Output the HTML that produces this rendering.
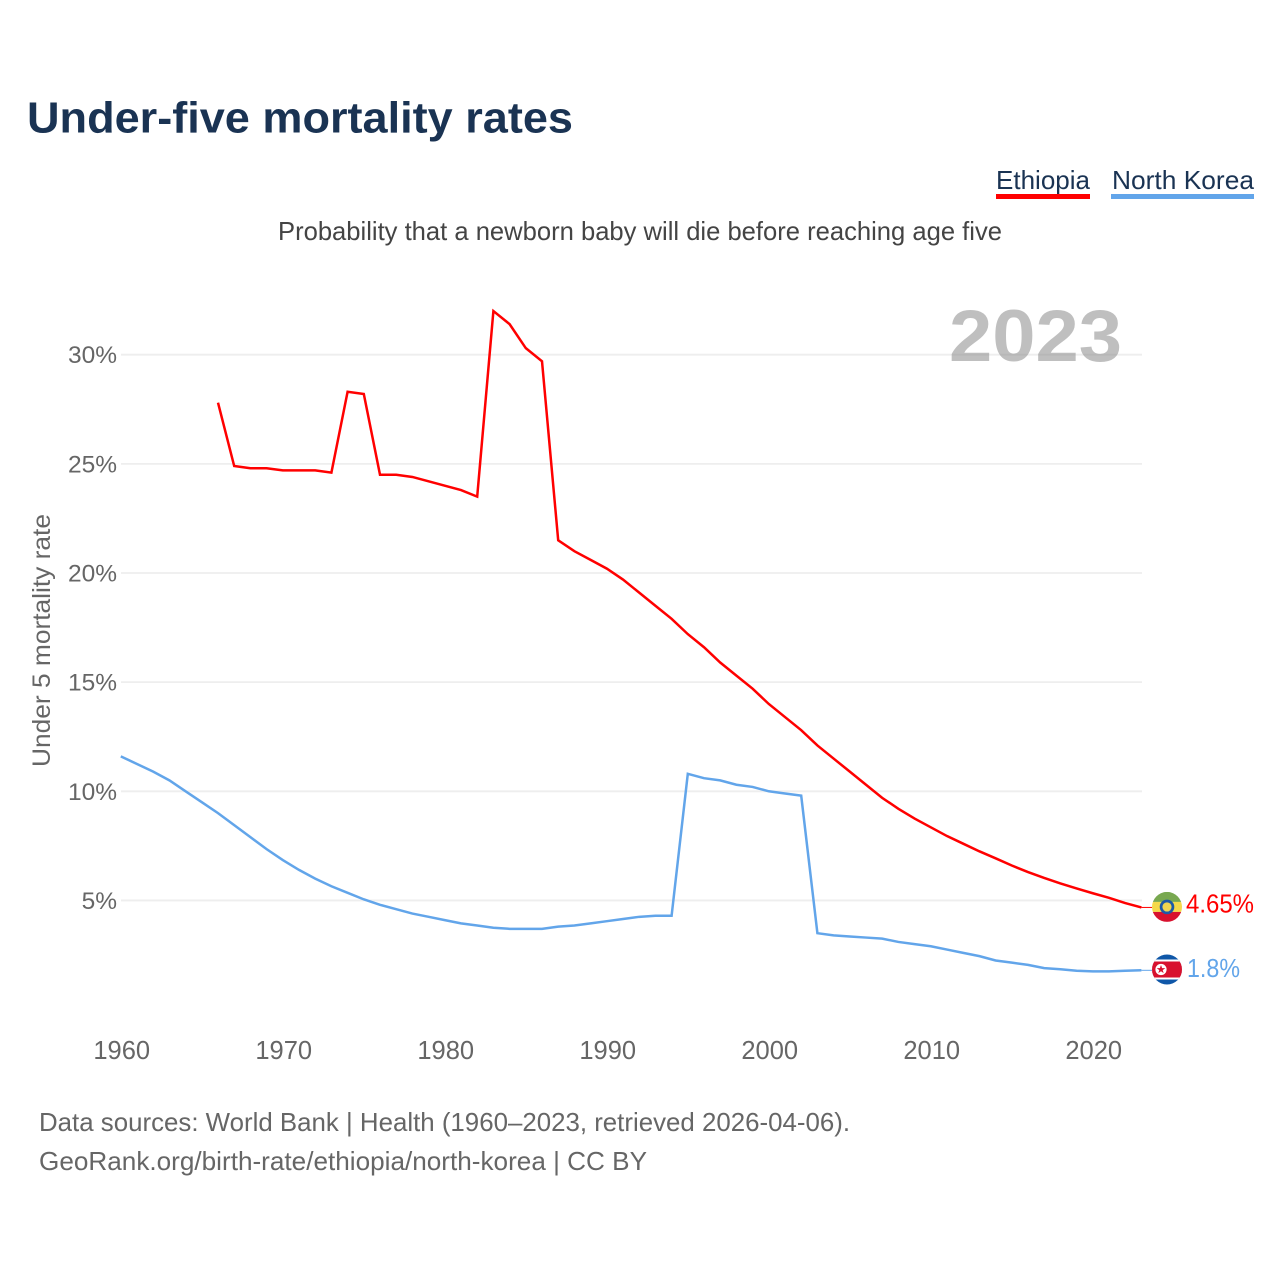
<!DOCTYPE html>
<html>
<head>
<meta charset="utf-8">
<title>Under-five mortality rates</title>
<style>
html,body{margin:0;padding:0;background:#fff}
svg{display:block;font-family:"Liberation Sans",sans-serif}
</style>
</head>
<body>
<svg id="chart" xmlns="http://www.w3.org/2000/svg" width="1280" height="1280" viewBox="0 0 1280 1280">
  <rect x="0" y="0" width="1280" height="1280" fill="#ffffff"/>
  <text x="27" y="132.5" font-size="44" font-weight="700" fill="#1a3353" textLength="546" lengthAdjust="spacingAndGlyphs">Under-five mortality rates</text>
  <text x="996" y="189" font-size="26" fill="#1a3353" textLength="94" lengthAdjust="spacingAndGlyphs">Ethiopia</text>
  <rect x="996" y="194" width="94" height="5" fill="#ff0000"/>
  <text x="1112" y="189" font-size="26" fill="#1a3353" textLength="142" lengthAdjust="spacingAndGlyphs">North Korea</text>
  <rect x="1111" y="194" width="143" height="5" fill="#62a5ea"/>
  <text x="278" y="240" font-size="26" fill="#444444" textLength="724" lengthAdjust="spacingAndGlyphs">Probability that a newborn baby will die before reaching age five</text>
  <text transform="translate(50,767) rotate(-90)" font-size="25" fill="#666666" textLength="253" lengthAdjust="spacingAndGlyphs">Under 5 mortality rate</text>
  <g id="grid"></g>
  <text x="949" y="361" font-size="73" font-weight="700" fill="#808080" fill-opacity="0.5" textLength="173" lengthAdjust="spacingAndGlyphs">2023</text>
  <g id="yticks"></g>
  <g id="xticks"></g>
  <g id="series"></g>
  <defs>
    <clipPath id="clip-eth"><circle id="clip-eth-c" cx="1167" cy="908" r="15"/></clipPath>
    <clipPath id="clip-nk"><circle id="clip-nk-c" cx="1167" cy="970" r="15"/></clipPath>
  </defs>
  <g id="flag-eth" clip-path="url(#clip-eth)">
    <rect x="1152" y="-15" width="30" height="10" fill="#78a850"/>
    <rect x="1152" y="-5" width="30" height="10" fill="#f5d94a"/>
    <rect x="1152" y="5" width="30" height="10" fill="#d8112e"/>
    <circle cx="1167" cy="0" r="7.3" fill="#1d5aa8"/>
    <circle cx="1167" cy="0" r="4.6" fill="#f0d550"/>
  </g>
  <g id="flag-nk" clip-path="url(#clip-nk)">
    <rect x="1152" y="-15" width="30" height="30" fill="#0f57a8"/>
    <rect x="1152" y="-10" width="30" height="20" fill="#ffffff"/>
    <rect x="1152" y="-8" width="30" height="16" fill="#d8112e"/>
    <circle cx="1161" cy="0" r="5.6" fill="#ffffff"/>
    <polygon points="1161,-4.5 1162.1,-1.4 1165.3,-1.4 1162.7,0.6 1163.7,3.6 1161,1.8 1158.3,3.6 1159.3,0.6 1156.7,-1.4 1159.9,-1.4" fill="#d8112e"/>
  </g>
  <text id="label-eth" x="1186" y="913" font-size="26" fill="#ff0000" textLength="68" lengthAdjust="spacingAndGlyphs"></text>
  <text id="label-nk" x="1187" y="977" font-size="26" fill="#62a5ea" textLength="53" lengthAdjust="spacingAndGlyphs"></text>
  <text x="39" y="1131" font-size="26" fill="#666666" textLength="811" lengthAdjust="spacingAndGlyphs">Data sources: World Bank | Health (1960–2023, retrieved 2026-04-06).</text>
  <text x="39" y="1170" font-size="26" fill="#666666" textLength="608" lengthAdjust="spacingAndGlyphs">GeoRank.org/birth-rate/ethiopia/north-korea | CC BY</text>
</svg>
<script>
var startYear = 1960;
var yTickValues = [5, 10, 15, 20, 25, 30];
var yTickLabels = ["5%", "10%", "15%", "20%", "25%", "30%"];
var xTickValues = [1960, 1970, 1980, 1990, 2000, 2010, 2020];
var xTickLabels = ["1960", "1970", "1980", "1990", "2000", "2010", "2020"];
var ethiopiaValues = [null, null, null, null, null, null,
  27.8, 24.9, 24.8, 24.8,
  24.7, 24.7, 24.7, 24.6, 28.3, 28.2, 24.5, 24.5, 24.4, 24.2,
  24.0, 23.8, 23.5, 32.0, 31.4, 30.3, 29.7, 21.5, 21.0, 20.6,
  20.2, 19.7, 19.1, 18.5, 17.9, 17.2, 16.6, 15.9, 15.3, 14.7,
  14.0, 13.4, 12.8, 12.1, 11.5, 10.9, 10.3, 9.7, 9.2, 8.75,
  8.35, 7.95, 7.6, 7.25, 6.93, 6.6, 6.3, 6.03, 5.78, 5.55,
  5.33, 5.12, 4.88, 4.68];
var northKoreaValues = [11.6, 11.25, 10.9, 10.5, 10.0, 9.5, 9.0, 8.45, 7.9, 7.35,
  6.85, 6.4, 6.0, 5.65, 5.35, 5.05, 4.8, 4.6, 4.4, 4.25,
  4.1, 3.95, 3.85, 3.75, 3.7, 3.7, 3.7, 3.8, 3.85, 3.95,
  4.05, 4.15, 4.25, 4.3, 4.3, 10.8, 10.6, 10.5, 10.3, 10.2,
  10.0, 9.9, 9.8, 3.5, 3.4, 3.35, 3.3, 3.25, 3.1, 3.0,
  2.9, 2.75, 2.6, 2.45, 2.25, 2.15, 2.05, 1.9, 1.85, 1.78,
  1.75, 1.75, 1.78, 1.8];
var ethiopiaLabel = "4.65%";
var northKoreaLabel = "1.8%";

var NS = "http://www.w3.org/2000/svg";
function xScale(year) { return 120.8 + (year - 1960) * 16.2; }
function yScale(v) { return 1009.6 - v * 21.83; }

var gridG = document.getElementById("grid");
var yG = document.getElementById("yticks");
var xG = document.getElementById("xticks");
var seriesG = document.getElementById("series");

yTickValues.forEach(function (v, i) {
  var line = document.createElementNS(NS, "line");
  
  
  line.setAttribute("x1", 121);
  line.setAttribute("x2", 1142);
  line.setAttribute("y1", yScale(v));
  line.setAttribute("y2", yScale(v));
  line.setAttribute("stroke", "#eeeeee");
  line.setAttribute("stroke-width", "1.8");
  gridG.appendChild(line);

  var t = document.createElementNS(NS, "text");
  
  
  t.setAttribute("x", 117);
  t.setAttribute("y", yScale(v) + 8.5);
  t.setAttribute("text-anchor", "end");
  t.setAttribute("font-size", "24.5");
  t.setAttribute("fill", "#666666");
  t.textContent = yTickLabels[i];
  yG.appendChild(t);
});

xTickValues.forEach(function (year, i) {
  var t = document.createElementNS(NS, "text");
  
  
  t.setAttribute("x", xScale(year) + 0.9);
  t.setAttribute("y", 1059);
  t.setAttribute("text-anchor", "middle");
  t.setAttribute("font-size", "25.5");
  t.setAttribute("fill", "#666666");
  t.textContent = xTickLabels[i];
  xG.appendChild(t);
});

function pathFor(values) {
  var d = "";
  values.forEach(function (v, i) {
    if (v === null) return;
    d += (d ? "L" : "M") + xScale(startYear + i).toFixed(2) + " " + yScale(v).toFixed(2);
  });
  return d;
}
function lastOf(values) { return values[values.length - 1]; }
function lastYear(values) { return startYear + values.length - 1; }

var northKoreaPath = document.createElementNS(NS, "path");


northKoreaPath.setAttribute("d", pathFor(northKoreaValues));
northKoreaPath.setAttribute("fill", "none");
northKoreaPath.setAttribute("stroke", "#62a5ea");
northKoreaPath.setAttribute("stroke-width", "2.5");
seriesG.appendChild(northKoreaPath);

var ethiopiaPath = document.createElementNS(NS, "path");


ethiopiaPath.setAttribute("d", pathFor(ethiopiaValues));
ethiopiaPath.setAttribute("fill", "none");
ethiopiaPath.setAttribute("stroke", "#ff0000");
ethiopiaPath.setAttribute("stroke-width", "2.5");
seriesG.appendChild(ethiopiaPath);

var ethConnector = document.createElementNS(NS, "line");


ethConnector.setAttribute("x1", xScale(lastYear(ethiopiaValues)));
ethConnector.setAttribute("x2", 1152);
ethConnector.setAttribute("y1", yScale(lastOf(ethiopiaValues)));
ethConnector.setAttribute("y2", yScale(lastOf(ethiopiaValues)));
ethConnector.setAttribute("stroke", "#ff0000");
ethConnector.setAttribute("stroke-width", "1");
seriesG.appendChild(ethConnector);

var nkConnector = document.createElementNS(NS, "line");


nkConnector.setAttribute("x1", xScale(lastYear(northKoreaValues)));
nkConnector.setAttribute("x2", 1152);
nkConnector.setAttribute("y1", yScale(lastOf(northKoreaValues)));
nkConnector.setAttribute("y2", yScale(lastOf(northKoreaValues)));
nkConnector.setAttribute("stroke", "#62a5ea");
nkConnector.setAttribute("stroke-width", "1");
seriesG.appendChild(nkConnector);

function placeFlag(groupId, clipId, cy) {
  document.getElementById(groupId).setAttribute("clip-path", "url(#" + clipId + ")");
  var circle = document.getElementById(clipId + "-c");
  circle.setAttribute("cy", 0);
  circle.setAttribute("cx", 1167);
  document.getElementById(groupId).setAttribute("transform", "translate(0," + cy + ")");
}
var ethY = yScale(lastOf(ethiopiaValues));
var nkY = yScale(lastOf(northKoreaValues));
placeFlag("flag-eth", "clip-eth", ethY - 0.5);
placeFlag("flag-nk", "clip-nk", nkY - 0.8);

var ethLabelEl = document.getElementById("label-eth");
ethLabelEl.textContent = ethiopiaLabel;
ethLabelEl.setAttribute("y", ethY + 5);
var nkLabelEl = document.getElementById("label-nk");
nkLabelEl.textContent = northKoreaLabel;
nkLabelEl.setAttribute("y", nkY + 6.5);
</script>
</body>
</html>
